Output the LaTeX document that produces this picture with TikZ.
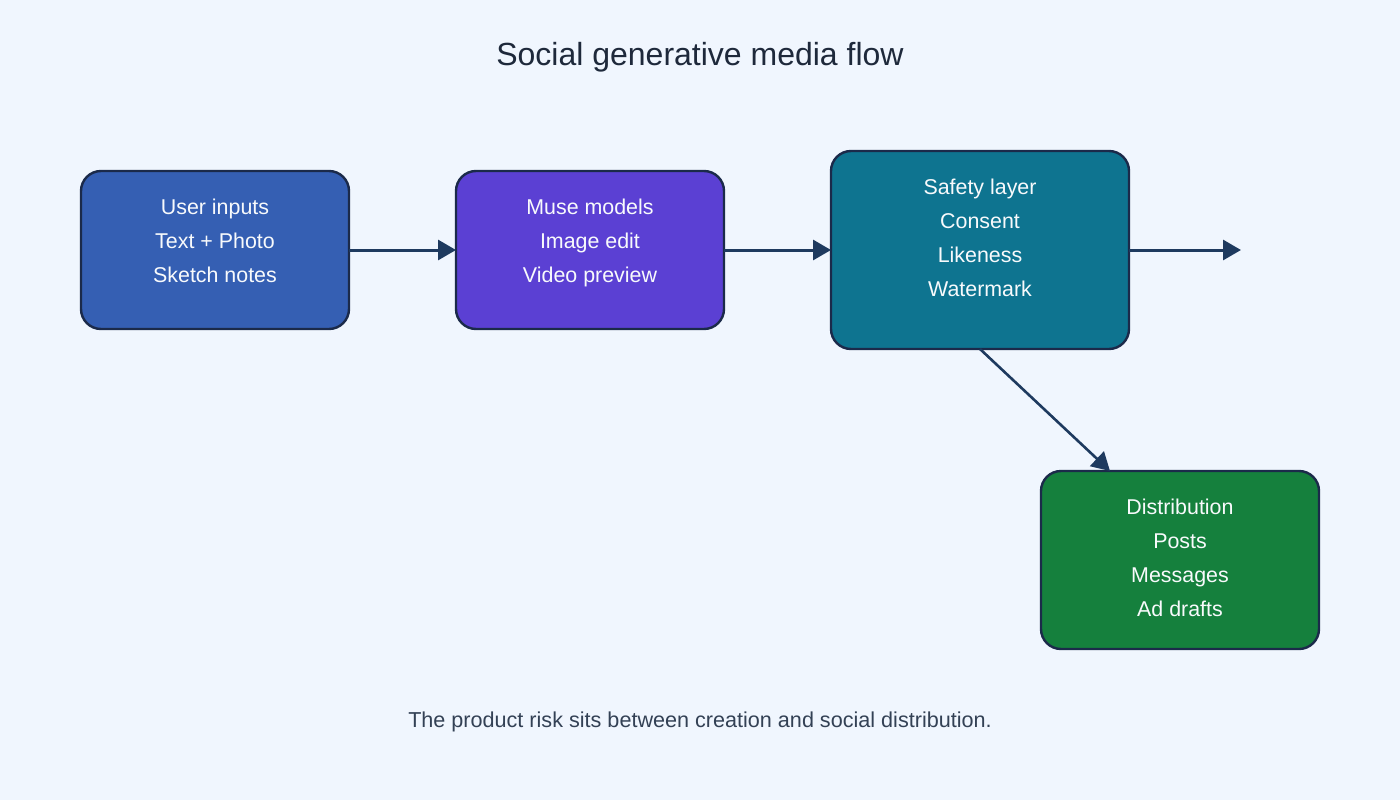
\documentclass[tikz,border=0pt]{standalone}
\usepackage{fontspec}
\setmainfont{Liberation Sans}
\usetikzlibrary{arrows.meta}
\definecolor{bg}{HTML}{F0F6FE}
\definecolor{edge}{HTML}{1B2A4A}
\definecolor{arr}{HTML}{1E3A5F}
\definecolor{cA}{HTML}{355FB3}
\definecolor{cB}{HTML}{5B40D3}
\definecolor{cC}{HTML}{0E7490}
\definecolor{cD}{HTML}{15803D}
\definecolor{titlec}{HTML}{1E293B}
\definecolor{footc}{HTML}{334155}
\definecolor{txt}{HTML}{F8FAFC}
\tikzset{
  box/.style={draw=edge, line width=2.4pt, rounded corners=20pt},
  lbl/.style={text=txt, font=\fontsize{21.4}{25}\selectfont, inner sep=0pt, anchor=base},
  conn/.style={draw=arr, line width=3pt, -{Triangle[length=18pt,width=20pt]}},
}
\begin{document}
\begin{tikzpicture}[x=1pt,y=-1pt]
\fill[bg] (0,0) rectangle (1400,800);
\useasboundingbox (0,0) rectangle (1400,800);
\node[text=titlec, font=\fontsize{32}{36}\selectfont, inner sep=0pt, anchor=base] (title) at (700,66) {Social generative media flow};
\path[box, fill=cA] (81,171) rectangle (349,329);
\path[box, fill=cB] (456,171) rectangle (724,329);
\path[box, fill=cC] (831,151) rectangle (1129,349);
\path[box, fill=cD] (1041,471) rectangle (1319,649);
\coordinate (aR) at (349,250);
\coordinate (bL) at (456,250);
\coordinate (bR) at (724,250);
\coordinate (cL) at (831,250);
\coordinate (cR) at (1129,250);
\coordinate (cB) at (980,349);
\coordinate (dT) at (1110,471);
\coordinate (free) at (1241,250);
\node[lbl] (a1) at (215,214.5) {User inputs};
\node[lbl] (a2) at (215,248.5) {Text + Photo};
\node[lbl] (a3) at (215,282.5) {Sketch notes};
\node[lbl] (b1) at (590,214.5) {Muse models};
\node[lbl] (b2) at (590,248.5) {Image edit};
\node[lbl] (b3) at (590,282.5) {Video preview};
\node[lbl] (c1) at (980,194.5) {Safety layer};
\node[lbl] (c2) at (980,228.5) {Consent};
\node[lbl] (c3) at (980,262.5) {Likeness};
\node[lbl] (c4) at (980,296.5) {Watermark};
\node[lbl] (d1) at (1180,514.5) {Distribution};
\node[lbl] (d2) at (1180,548.5) {Posts};
\node[lbl] (d3) at (1180,582.5) {Messages};
\node[lbl] (d4) at (1180,616.5) {Ad drafts};
\draw[conn] (aR) -- (bL);
\draw[conn] (bR) -- (cL);
\draw[conn] (cR) -- (free);
\draw[conn, line width=2.6pt] (cB) -- (dT);
\node[text=footc, font=\fontsize{21.6}{25}\selectfont, inner sep=0pt, anchor=base] (foot) at (700,727.5) {The product risk sits between creation and social distribution.};
\end{tikzpicture}
\end{document}
